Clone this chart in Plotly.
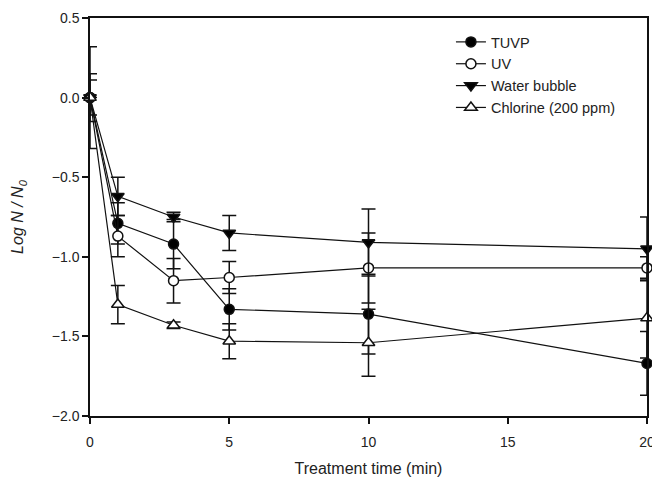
import plotly.graph_objects as go

time_min = [0, 1, 3, 5, 10, 20]

tuvp = [0.0, -0.79, -0.92, -1.33, -1.36, -1.67]
tuvp_err = [0.32, 0.13, 0.155, 0.13, 0.25, 0.20]

uv = [0.0, -0.87, -1.15, -1.13, -1.07, -1.07]
uv_err = [0.11, 0.13, 0.14, 0.10, 0.22, 0.07]

water = [0.0, -0.62, -0.75, -0.85, -0.91, -0.95]
water_err = [0.15, 0.12, 0.03, 0.11, 0.21, 0.20]

chlorine = [0.0, -1.30, -1.43, -1.53, -1.54, -1.385]
chlorine_err = [0.0, 0.12, 0.02, 0.11, 0.21, 0.25]

names = ["TUVP", "UV", "Water bubble", "Chlorine (200 ppm)"]
series = [tuvp, uv, water, chlorine]
errors = [tuvp_err, uv_err, water_err, chlorine_err]
symbols = ["circle", "circle", "triangle-down", "triangle-up"]
fills = ["black", "white", "black", "white"]

FONT = "Liberation Sans, Arial, sans-serif"

fig = go.Figure()
for name, ys, err, sym, fill in zip(names, series, errors, symbols, fills):
    fig.add_trace(go.Scatter(
        x=time_min, y=ys, name=name, mode="lines+markers",
        line=dict(color="#111", width=1.2),
        marker=dict(symbol=sym, size=10 if sym == "circle" else 11,
                    color=fill, line=dict(color="#111", width=1.5)),
        error_y=dict(type="data", array=err, visible=True, color="#111",
                     thickness=1.5, width=7),
        cliponaxis=False,
    ))

fig.update_layout(
    width=652, height=483,
    margin=dict(l=90, r=5, t=18, b=67),
    paper_bgcolor="white", plot_bgcolor="white",
    font=dict(family=FONT, size=14, color="#222"),
    showlegend=True,
    legend=dict(x=0.648, y=0.98, xanchor="left", yanchor="top",
                bgcolor="rgba(0,0,0,0)", font=dict(size=14.5, color="#222"),
                tracegroupgap=0),
    xaxis=dict(range=[0, 20], tickvals=[0, 5, 10, 15, 20], ticks="outside",
               ticklen=6, tickwidth=1.5, tickcolor="#111", ticklabelstandoff=6,
               ticklabeloverflow="allow", automargin=False,
               showline=True, linecolor="#111", linewidth=1.5, mirror=True,
               showgrid=False, zeroline=False,
               title=dict(text="Treatment time (min)", font=dict(size=16), standoff=14)),
    yaxis=dict(range=[-2.0, 0.5], tickvals=[0.5, 0.0, -0.5, -1.0, -1.5, -2.0],
               tickformat=".1f", ticks="outside",
               ticklen=6, tickwidth=1.5, tickcolor="#111", automargin=False,
               showline=True, linecolor="#111", linewidth=1.5, mirror=True,
               showgrid=False, zeroline=False,
               title=dict(text="<i>Log N / N<sub>0</sub></i>", font=dict(size=16), standoff=24)),
)

fig.write_html(
    "out.html",
    config={"displayModeBar": False},
    post_script="document.body.style.margin='0';document.body.style.overflow='hidden';",
)
